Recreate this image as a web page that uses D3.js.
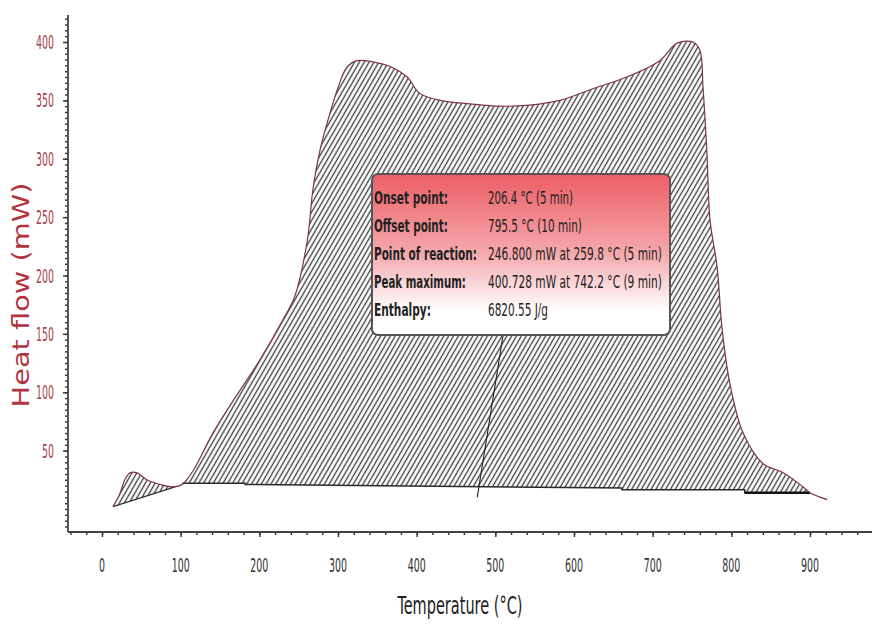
<!DOCTYPE html>
<html>
<head>
<meta charset="utf-8">
<script src="https://cdn.jsdelivr.net/npm/d3@7"></script>
<style>
  body { margin: 0; background: #fff; }
  svg { display: block; }
</style>
</head>
<body>
<div id="chart"></div>
<script>
// DSC trace: heat flow (mW) against temperature (°C)
const tempC = [14, 22, 29, 35.6, 44.5, 57, 74, 90, 102, 116, 141, 167, 201, 230, 245, 261, 268, 277, 286, 299, 311, 324, 344, 370, 388, 404, 430, 468, 506, 544, 582, 624, 667, 709, 731, 751, 760, 764, 769, 773, 782, 788, 798, 815, 840, 866, 891, 900, 922];
const heatMW = [2, 12, 25, 31, 31, 25, 21, 19, 21, 33, 65, 93, 128, 162, 182, 230, 273, 307, 330, 359, 378, 384, 383, 378, 370, 356, 350, 347, 345, 346, 350, 360, 370, 384, 399, 400, 393, 361, 305, 247, 207, 156, 108, 65, 39, 31, 19, 14, 8];

// integration baselines
const smallBaseT = [14, 93];
const smallBaseH = [2, 19];
const mainBaseT = [102, 182, 182, 661, 661, 817, 817, 900];
const mainBaseH = [22, 22, 21, 18, 16.5, 16.5, 14, 14];
const endBaseT = [817, 900];
const endBaseH = [14, 14];

// point-of-reaction marker line
const reactT = [477, 516];
const reactH = [10, 175];

const xTicks = [0, 100, 200, 300, 400, 500, 600, 700, 800, 900];
const yTicks = [50, 100, 150, 200, 250, 300, 350, 400];

const infoLabels = ['Onset point:', 'Offset point:', 'Point of reaction:', 'Peak maximum:', 'Enthalpy:'];
const infoValues = ['206.4 °C (5 min)', '795.5 °C (10 min)', '246.800 mW at 259.8 °C (5 min)', '400.728 mW at 742.2 °C (9 min)', '6820.55 J/g'];

// layout
const W = 872, H = 626;
const labelW = [74, 74, 103, 92, 57];
const valueW = [85, 94, 174, 174, 60];
const box = { x: 372, y: 174, w: 298, h: 161 };

const x = d3.scaleLinear().domain([0, 900]).range([102, 810]);
const y = d3.scaleLinear().domain([0, 400]).range([509, 42]);

const svg = d3.select('#chart').append('svg')
  .attr('width', W).attr('height', H)
  .style('font-family', '"Liberation Sans Narrow", "DejaVu Sans Condensed", sans-serif');

// squeeze a text horizontally to a target width (the source font is very narrow)
function fit(sel, tx, ty, width, anchor, rot) {
  sel.each(function () {
    const natural = this.getComputedTextLength();
    const k = width / natural;
    d3.select(this)
      .attr('x', 0).attr('y', 0)
      .attr('text-anchor', anchor || 'start')
      .attr('transform', `translate(${tx},${ty})${rot ? ` rotate(${rot})` : ''} scale(${k},1)`);
  });
}

const defs = svg.append('defs');
const hatch = defs.append('pattern')
  .attr('id', 'hatch')
  .attr('patternUnits', 'userSpaceOnUse')
  .attr('width', 4.2).attr('height', 5)
  .attr('patternTransform', 'rotate(30)');
hatch.append('rect').attr('width', 4.2).attr('height', 5).attr('fill', '#fff');
hatch.append('line')
  .attr('x1', 2.1).attr('y1', 0).attr('x2', 2.1).attr('y2', 5)
  .attr('stroke', '#3a3a3a').attr('stroke-width', 1.3);

const grad = defs.append('linearGradient')
  .attr('id', 'boxgrad').attr('x1', 0).attr('y1', 0).attr('x2', 0).attr('y2', 1);
grad.append('stop').attr('offset', '0%').attr('stop-color', '#ec5e64');
grad.append('stop').attr('offset', '50%').attr('stop-color', '#f5aaae');
grad.append('stop').attr('offset', '85%').attr('stop-color', '#ffffff');
grad.append('stop').attr('offset', '100%').attr('stop-color', '#ffffff');

const pts = tempC.map((t, i) => [x(t), y(heatMW[i])]);
const smooth = d3.line().curve(d3.curveCatmullRom);
const straight = d3.line();

function region(t0, t1, baseT, baseH) {
  const top = pts.filter((p, i) => tempC[i] >= t0 && tempC[i] <= t1);
  const base = baseT.map((t, i) => [x(t), y(baseH[i])]).reverse();
  return smooth(top) + straight(base).replace('M', 'L') + 'Z';
}

// hatched areas
svg.append('path')
  .attr('d', region(14, 93, smallBaseT, smallBaseH))
  .attr('fill', 'url(#hatch)');
svg.append('path')
  .attr('d', region(102, 900, mainBaseT, mainBaseH))
  .attr('fill', 'url(#hatch)');

// baselines
svg.append('path')
  .attr('d', straight(smallBaseT.map((t, i) => [x(t), y(smallBaseH[i])])))
  .attr('fill', 'none').attr('stroke', '#333').attr('stroke-width', 1.3);
svg.append('path')
  .attr('d', straight(mainBaseT.map((t, i) => [x(t), y(mainBaseH[i])])))
  .attr('fill', 'none').attr('stroke', '#2a2a2a').attr('stroke-width', 1.5);
svg.append('path')
  .attr('d', straight(endBaseT.map((t, i) => [x(t), y(endBaseH[i])])))
  .attr('fill', 'none').attr('stroke', '#111').attr('stroke-width', 2.5);

// measured curve
svg.append('path')
  .attr('d', smooth(pts))
  .attr('fill', 'none').attr('stroke', '#7e3440').attr('stroke-width', 1.2);

// reaction line
svg.append('path')
  .attr('d', straight(reactT.map((t, i) => [x(t), y(reactH[i])])))
  .attr('fill', 'none').attr('stroke', '#222').attr('stroke-width', 1.1);

// axes
const xAxisY = 532, yAxisX = 68;
const minorX = d3.axisBottom(x).tickValues(d3.range(-40, 980, 20)).tickSize(3).tickFormat('');
const majorX = d3.axisBottom(x).tickValues(xTicks).tickSize(5).tickFormat('');
svg.append('g').attr('transform', `translate(0,${xAxisY})`).call(minorX);
svg.append('g').attr('transform', `translate(0,${xAxisY})`).call(majorX);

const minorY = d3.axisLeft(y).tickValues(d3.range(-15, 425, 5)).tickSize(3).tickFormat('');
const majorY = d3.axisLeft(y).tickValues(yTicks).tickSize(5).tickFormat('');
svg.append('g').attr('transform', `translate(${yAxisX},0)`).call(minorY);
svg.append('g').attr('transform', `translate(${yAxisX},0)`).call(majorY);

svg.selectAll('.domain').remove();
svg.selectAll('.tick line').attr('stroke', '#333').attr('stroke-width', 1.4);

svg.append('line')
  .attr('x1', yAxisX).attr('x2', W).attr('y1', xAxisY).attr('y2', xAxisY)
  .attr('stroke', '#444').attr('stroke-width', 1.8);
svg.append('line')
  .attr('x1', yAxisX).attr('x2', yAxisX).attr('y1', 15).attr('y2', xAxisY)
  .attr('stroke', '#444').attr('stroke-width', 1.8);

// tick labels
svg.append('g').selectAll('text').data(xTicks).join('text')
  .attr('font-size', 20).attr('fill', '#333')
  .text((d) => d)
  .each(function (d) { fit(d3.select(this), x(d), 572, 6 * String(d).length, 'middle'); });
svg.append('g').selectAll('text').data(yTicks).join('text')
  .attr('font-size', 20).attr('fill', '#a8404e')
  .text((d) => d)
  .each(function (d) { fit(d3.select(this), 54, y(d) + 7, 6 * String(d).length, 'end'); });

// axis titles
svg.append('text')
  .attr('font-size', 25).attr('fill', '#222')
  .text('Temperature (°C)')
  .call(fit, 460, 614, 125, 'middle');
svg.append('text')
  .attr('font-family', '"DejaVu Sans", sans-serif')
  .attr('font-size', 23).attr('fill', '#b3343f')
  .text('Heat flow (mW)')
  .call(fit, 29, 295, 225, 'middle', -90);

// info box
const info = svg.append('g');
info.append('rect')
  .attr('x', box.x).attr('y', box.y).attr('width', box.w).attr('height', box.h)
  .attr('rx', 6).attr('fill', 'url(#boxgrad)')
  .attr('stroke', '#555').attr('stroke-width', 2);
infoLabels.forEach((lab, i) => {
  info.append('text')
    .attr('font-size', 18).attr('font-weight', 'bold').attr('fill', '#222')
    .text(lab)
    .call(fit, 374, 204 + i * 28, labelW[i]);
  info.append('text')
    .attr('font-size', 18).attr('fill', '#222')
    .text(infoValues[i])
    .call(fit, 488, 204 + i * 28, valueW[i]);
});
</script>
</body>
</html>
